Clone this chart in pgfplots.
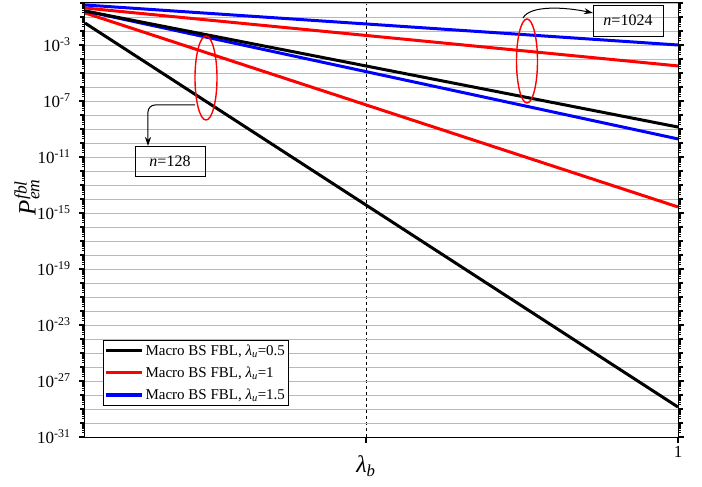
\documentclass[border=0pt]{standalone}
\usepackage{fontspec}
\setmainfont{Liberation Serif}
\usepackage{pgfplots}
\pgfplotsset{compat=1.18}
\usetikzlibrary{arrows.meta}
\def\mylist{1e-31}
\foreach \e in {-31,...,-1}{\foreach \m in {2,...,9}{\xdef\mylist{\mylist,\m e\e}}}
\begin{document}
\begin{tikzpicture}[x=1pt,y=1pt]
\useasboundingbox (-85,-50) rectangle (617,437);
\begin{axis}[
  at={(0,0)}, anchor=south west,
  scale only axis, width=593pt, height=434pt,
  xmin=0, xmax=1,
  ymode=log, log basis y=10, ymin=1e-31, ymax=1,
  xtick={0.474,1}, xticklabels={,1},
  xtick pos=bottom,
  ytick={1e-31,1e-27,1e-23,1e-19,1e-15,1e-11,1e-7,1e-3},
  yticklabels={10\textsuperscript{-31},10\textsuperscript{-27},10\textsuperscript{-23},10\textsuperscript{-19},10\textsuperscript{-15},10\textsuperscript{-11},10\textsuperscript{-7},10\textsuperscript{-3}},
  minor ytick={1e0,1e-1,1e-2,1e-4,1e-5,1e-6,1e-8,1e-9,1e-10,1e-12,1e-13,1e-14,1e-16,1e-17,1e-18,1e-20,1e-21,1e-22,1e-24,1e-25,1e-26,1e-28,1e-29,1e-30},
  extra y ticks/.expand once=\mylist,
  extra y tick labels={},
  extra y tick style={grid=none, major tick length=3pt, tick style={line width=0.8pt}},
  ymajorgrids, yminorgrids, xmajorgrids,
  x grid style={black, dashed, line width=0.5pt},
  y grid style={gray!55, line width=0.9pt},
  tick align=outside,
  major tick length=6pt, minor tick length=5pt,
  tick style={black, line width=1.2pt},
  axis line style={line width=1pt},
  ticklabel style={font=\fontsize{17}{20}\selectfont},
  yticklabel style={xshift=-5pt},
  legend style={at={(rel axis cs:0.0304,0.2235)}, anchor=north west,
    font=\fontsize{15}{17}\selectfont, draw=black, line width=0.6pt,
    inner xsep=1pt, inner ysep=2.5pt, row sep=6pt, cells={anchor=west}},
  legend image code/.code={\draw[#1, line width=3.2pt] (0pt,0pt) -- (36pt,0pt);},
  every axis plot/.append style={line width=3pt},
]
% n = 128
\addplot[black] coordinates {(0,3.7e-2) (1,1.38e-29)};
\addlegendentry{Macro BS FBL, \textit{λ}\textsubscript{\textit{u}}=0.5}
\addplot[red] coordinates {(0,1.95e-1) (1,2.7e-15)};
\addlegendentry{Macro BS FBL, \textit{λ}\textsubscript{\textit{u}}=1}
\addplot[blue] coordinates {(0,2.7e-1) (1,1.95e-10)};
\addlegendentry{Macro BS FBL, \textit{λ}\textsubscript{\textit{u}}=1.5}
% n = 1024
\addplot[black, forget plot] coordinates {(0,2.7e-1) (1,1.38e-9)};
\addplot[red, forget plot] coordinates {(0,4.4e-1) (1,3.2e-5)};
\addplot[blue, forget plot] coordinates {(0,7.2e-1) (1,1e-3)};
\end{axis}
% annotations (picture coordinates in pt)
\draw[red, line width=1.4pt] (121,359) ellipse (11 and 42);
\draw[red, line width=1.4pt] (442,376) ellipse (10.5 and 42);
\draw[black, line width=1pt, -{Stealth[length=9pt,width=6pt]}, rounded corners=7pt] (110,332) -| (63,291);
\node[draw=black, line width=0.8pt, minimum width=70pt, minimum height=30pt, inner sep=0pt, font=\fontsize{16}{18}\selectfont] at (85,276) {\textit{n}=128};
\draw[black, line width=1pt, -{Stealth[length=9pt,width=6pt]}] (438,419) .. controls (445,432) and (480,430) .. (508,424);
\node[draw=black, line width=0.8pt, minimum width=70pt, minimum height=31pt, inner sep=0pt, font=\fontsize{16}{18}\selectfont] at (543,416.5) {\textit{n}=1024};
% axis labels
\node[font=\fontsize{24}{26}\selectfont] at (281,-29) {\textit{λ}\textsubscript{\textit{b}}};
\node[rotate=90, font=\fontsize{25}{28}\selectfont] at (-58,240) {\textit{P}\makebox[0pt][l]{\textsuperscript{\textit{fbl}}}\textsubscript{\textit{em}}};
\end{tikzpicture}
\end{document}
